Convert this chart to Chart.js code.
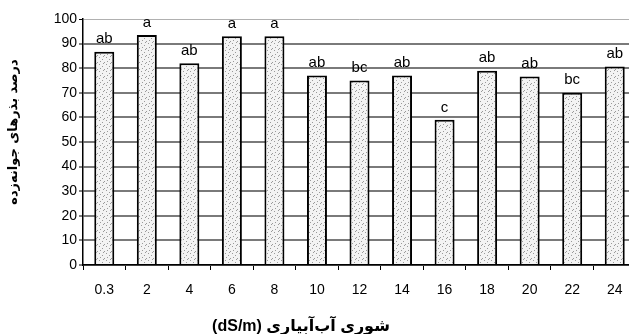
<!DOCTYPE html>
<html>
<head>
<meta charset="utf-8">
<script src="https://cdn.jsdelivr.net/npm/chart.js@4.4.1/dist/chart.umd.min.js"></script>
<style>
  html, body { margin: 0; padding: 0; background: #fff; overflow: hidden; }
  #wrap { width: 629px; height: 334px; position: relative; overflow: hidden; }
</style>
</head>
<body>
<div id="wrap"><canvas id="c" width="636" height="334"></canvas></div>
<script>
const categories = ['0.3', '2', '4', '6', '8', '10', '12', '14', '16', '18', '20', '22', '24'];
const germination = [86.7, 93.5, 82, 93, 93, 77, 75, 77, 59, 79, 76.6, 70, 80.7];
const letters = ['ab', 'a', 'ab', 'a', 'a', 'ab', 'bc', 'ab', 'c', 'ab', 'ab', 'bc', 'ab'];
const yTitle = 'درصد بذرهای جوانه‌زده';
const xTitle = '(dS/m) شوری آب‌آبیاری';

function makePattern() {
  const p = document.createElement('canvas');
  p.width = 7; p.height = 7;
  const g = p.getContext('2d');
  g.fillStyle = '#f3f3f3';
  g.fillRect(0, 0, 7, 7);
  g.fillStyle = '#9a9a9a';
  [[1,1],[4,3],[2,5],[6,6],[5,0]].forEach(([x,y]) => g.fillRect(x, y, 1, 1));
  return document.getElementById('c').getContext('2d').createPattern(p, 'repeat');
}

const letterPlugin = {
  id: 'letters',
  afterDatasetsDraw(chart) {
    const ctx = chart.ctx;
    const meta = chart.getDatasetMeta(0);
    ctx.save();
    ctx.font = '15px "Liberation Sans", Arial, sans-serif';
    ctx.fillStyle = '#000';
    ctx.textAlign = 'center';
    ctx.textBaseline = 'bottom';
    meta.data.forEach((bar, i) => {
      ctx.fillText(letters[i], bar.x, bar.y - 5);
    });
    ctx.restore();
  },
  afterDraw(chart) {
    const ctx = chart.ctx;
    ctx.save();
    ctx.fillStyle = '#000';
    ctx.textAlign = 'center';
    ctx.textBaseline = 'middle';
    ctx.font = 'bold 16px "Liberation Sans", "DejaVu Sans", Arial, sans-serif';
    ctx.fillText(xTitle, 301, 327);
    ctx.translate(14, 132);
    ctx.rotate(-Math.PI / 2);
    ctx.font = 'bold 13px "DejaVu Sans", sans-serif';
    ctx.fillText(yTitle, 0, 0);
    ctx.restore();
  }
};

new Chart(document.getElementById('c'), {
  type: 'bar',
  data: {
    labels: categories,
    datasets: [{
      data: germination,
      backgroundColor: makePattern(),
      borderColor: '#000',
      borderWidth: 2,
      borderSkipped: 'bottom',
      barPercentage: 1,
      categoryPercentage: 0.47
    }]
  },
  options: {
    responsive: false,
    animation: false,
    devicePixelRatio: 1,
    layout: { padding: { top: 19, right: 0, left: 0, bottom: 0 } },
    plugins: {
      legend: { display: false },
      tooltip: { enabled: false },
      title: { display: false }
    },
    scales: {
      x: {
        afterFit: s => { s.height = 69; },
        grid: { display: true, drawOnChartArea: false, offset: true, tickLength: 5, color: '#000', lineWidth: 1 },
        border: { display: true, color: '#000', width: 1.5 },
        ticks: { color: '#000', padding: 12, font: { family: '"Liberation Sans", Arial, sans-serif', size: 14 } }
      },
      y: {
        min: 0, max: 100,
        afterFit: s => { s.width = 83; },
        ticks: { stepSize: 10, color: '#000', padding: 2, font: { family: '"Liberation Sans", Arial, sans-serif', size: 14 } },
        grid: {
          color: c => c.tick && c.tick.value === 100 ? '#b0b0b0' : '#7a7a7a',
          lineWidth: c => c.tick && c.tick.value === 100 ? 1 : 2,
          tickColor: '#000',
          tickLength: 4,
          tickWidth: 1
        },
        border: { display: true, color: '#000', width: 1.5 },
        title: { display: false }
      }
    }
  },
  plugins: [letterPlugin]
});
</script>
</body>
</html>
